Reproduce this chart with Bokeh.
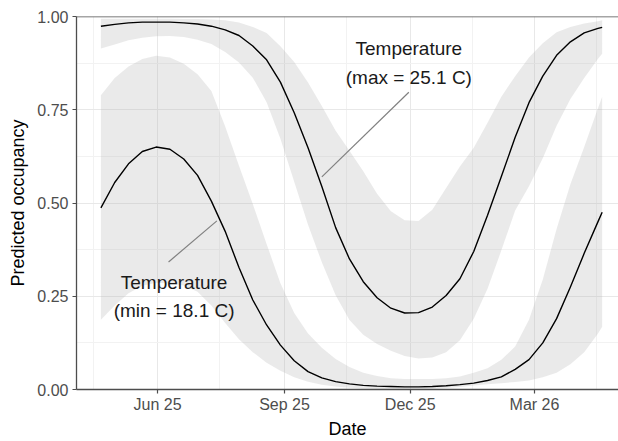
from bokeh.plotting import figure
from bokeh.models import Range1d, FixedTicker, DatetimeTickFormatter, PrintfTickFormatter, Span
from bokeh.core.properties import value
from bokeh.embed import file_html
from bokeh.resources import INLINE
import pandas as pd

# dates of the prediction curve (every 10 days)
dates = ["2025-04-21", "2025-05-01", "2025-05-11", "2025-05-21", "2025-05-31",
         "2025-06-10", "2025-06-20", "2025-06-30", "2025-07-10", "2025-07-20",
         "2025-07-30", "2025-08-09", "2025-08-19", "2025-08-29", "2025-09-08",
         "2025-09-18", "2025-09-28", "2025-10-08", "2025-10-18", "2025-10-28",
         "2025-11-07", "2025-11-17", "2025-11-27", "2025-12-07", "2025-12-17",
         "2025-12-27", "2026-01-06", "2026-01-16", "2026-01-26", "2026-02-05",
         "2026-02-15", "2026-02-25", "2026-03-07", "2026-03-17", "2026-03-27",
         "2026-04-06", "2026-04-16", "2026-04-19"]

# temperature at max (25.1 C)
hi_fit = [0.974, 0.979, 0.983, 0.985, 0.985, 0.985, 0.983, 0.980, 0.974, 0.964,
          0.949, 0.921, 0.884, 0.824, 0.742, 0.648, 0.544, 0.434, 0.350, 0.289,
          0.246, 0.218, 0.205, 0.206, 0.221, 0.252, 0.297, 0.370, 0.467, 0.571,
          0.676, 0.769, 0.840, 0.896, 0.932, 0.956, 0.968, 0.971]
hi_upper = [0.994, 0.994, 0.994, 0.994, 0.994, 0.994, 0.993, 0.993, 0.992, 0.990,
            0.984, 0.972, 0.956, 0.920, 0.878, 0.823, 0.760, 0.694, 0.640, 0.585,
            0.525, 0.478, 0.454, 0.452, 0.482, 0.540, 0.598, 0.648, 0.715, 0.785,
            0.840, 0.890, 0.928, 0.958, 0.972, 0.981, 0.987, 0.990]
hi_lower = [0.914, 0.925, 0.936, 0.943, 0.947, 0.948, 0.945, 0.938, 0.926, 0.905,
            0.877, 0.836, 0.770, 0.672, 0.557, 0.442, 0.341, 0.253, 0.186, 0.147,
            0.122, 0.104, 0.090, 0.083, 0.086, 0.100, 0.132, 0.190, 0.270, 0.373,
            0.480, 0.545, 0.620, 0.707, 0.779, 0.835, 0.887, 0.900]

# temperature at min (18.1 C)
lo_fit = [0.487, 0.555, 0.605, 0.638, 0.650, 0.644, 0.618, 0.574, 0.505, 0.424,
          0.327, 0.240, 0.173, 0.119, 0.077, 0.048, 0.031, 0.021, 0.015, 0.011,
          0.009, 0.008, 0.007, 0.007, 0.008, 0.010, 0.013, 0.017, 0.024, 0.034,
          0.054, 0.080, 0.125, 0.190, 0.275, 0.365, 0.450, 0.475]
lo_upper = [0.789, 0.835, 0.866, 0.886, 0.895, 0.890, 0.873, 0.845, 0.800, 0.705,
            0.600, 0.497, 0.390, 0.285, 0.205, 0.150, 0.112, 0.082, 0.060, 0.045,
            0.036, 0.030, 0.028, 0.028, 0.028, 0.030, 0.035, 0.045, 0.057, 0.080,
            0.115, 0.187, 0.295, 0.430, 0.550, 0.650, 0.755, 0.785]
lo_lower = [0.187, 0.225, 0.258, 0.278, 0.286, 0.284, 0.279, 0.262, 0.225, 0.178,
            0.135, 0.100, 0.072, 0.050, 0.033, 0.021, 0.013, 0.008, 0.005, 0.003,
            0.002, 0.002, 0.001, 0.001, 0.002, 0.004, 0.007, 0.011, 0.014, 0.017,
            0.020, 0.024, 0.033, 0.045, 0.068, 0.100, 0.150, 0.168]

x_ticks = ["2025-06-01", "2025-09-01", "2025-12-01", "2026-03-01"]
x_minor = ["2025-04-16", "2025-07-16", "2025-10-16", "2026-01-15", "2026-04-15"]
y_ticks = [0, 0.25, 0.5, 0.75, 1.0]
y_minor = [0.125, 0.375, 0.625, 0.875]

# annotations
labels = ["Temperature", "(max = 25.1 C)", "Temperature", "(min = 18.1 C)"]
label_x = ["2025-11-30", "2025-11-30", "2025-06-13", "2025-06-13"]
label_y = [0.914, 0.837, 0.286, 0.211]
seg_x0 = ["2025-09-28", "2025-06-09"]
seg_y0 = [0.570, 0.342]
seg_x1 = ["2025-11-30", "2025-07-14"]
seg_y1 = [0.797, 0.452]


def ms(s):
    return pd.Timestamp(s).timestamp() * 1000


x = pd.to_datetime(dates)

p = figure(width=618, height=441, x_axis_type="datetime",
           x_range=Range1d(ms("2025-04-03 08:00"), ms("2026-04-30 20:00")),
           y_range=Range1d(0, 1),
           output_backend="svg", toolbar_location=None,
           min_border_left=76, min_border_right=0,
           min_border_top=16, min_border_bottom=51)
p.outline_line_color = None
p.background_fill_color = "white"
p.border_fill_color = "white"

# ribbons
p.varea(x=x, y1=hi_lower, y2=hi_upper, fill_color="#b0b0b0", fill_alpha=0.27)
p.varea(x=x, y1=lo_lower, y2=lo_upper, fill_color="#b0b0b0", fill_alpha=0.27)

# fitted lines
p.line(x, hi_fit, line_color="black", line_width=1.4, line_join="round")
p.line(x, lo_fit, line_color="black", line_width=1.4, line_join="round")

# label pointers and labels
p.segment(x0=pd.to_datetime(seg_x0), y0=seg_y0, x1=pd.to_datetime(seg_x1), y1=seg_y1,
          line_color="#808080", line_width=1.2)
p.text(x=pd.to_datetime(label_x), y=label_y, text=labels,
       text_align="center", text_baseline="middle",
       text_font=value("Liberation Sans"), text_font_size="19px", text_color="#1a1a1a")

# top border
p.add_layout(Span(location=1, dimension="width", line_color="#4d4d4d", line_width=1.3))

xt = FixedTicker(ticks=[ms(d) for d in x_ticks], minor_ticks=[ms(d) for d in x_minor])
yt = FixedTicker(ticks=y_ticks, minor_ticks=y_minor)
p.xaxis.ticker = xt
p.yaxis.ticker = yt
p.xgrid.ticker = xt
p.ygrid.ticker = yt
p.xaxis.formatter = DatetimeTickFormatter(days="%b %y", months="%b %y", years="%b %y")
p.yaxis.formatter = PrintfTickFormatter(format="%.2f")

for g in (p.xgrid, p.ygrid):
    g.grid_line_color = "#e8e8e8"
    g.grid_line_width = 1
    g.minor_grid_line_color = "#f2f2f2"
    g.minor_grid_line_width = 1

p.xaxis.axis_label = "Date"
p.yaxis.axis_label = "Predicted occupancy"
for ax in (p.xaxis[0], p.yaxis[0]):
    ax.axis_line_color = "#4d4d4d"
    ax.axis_line_width = 1.3
    ax.major_tick_line_color = "#4d4d4d"
    ax.major_tick_line_width = 1.2
    ax.major_tick_out = 4
    ax.major_tick_in = 0
    ax.minor_tick_line_color = None
    ax.major_label_text_font = "Liberation Sans"
    ax.major_label_text_font_size = "16px"
    ax.major_label_text_color = "#4d4d4d"
    ax.axis_label_text_font = "Liberation Sans"
    ax.axis_label_text_font_size = "18px"
    ax.axis_label_text_font_style = "normal"
    ax.axis_label_text_color = "black"
p.xaxis.major_label_standoff = 2
p.xaxis.axis_label_standoff = 3
p.yaxis.major_label_standoff = 4
p.yaxis.axis_label_standoff = 6

open("out.html", "w").write(file_html(p, INLINE))
